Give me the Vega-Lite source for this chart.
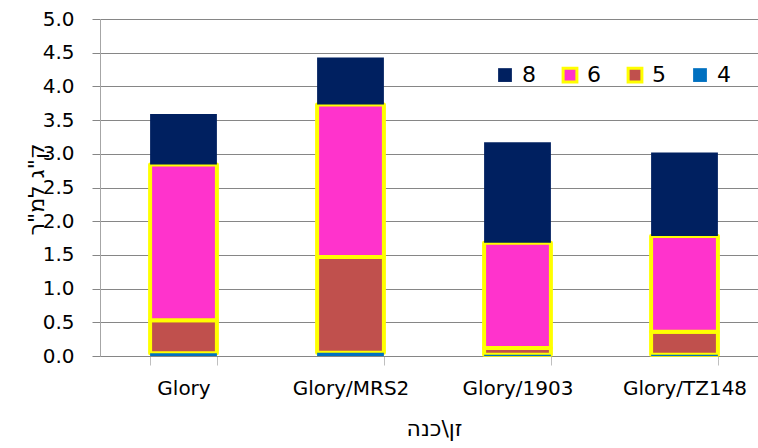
{
  "$schema": "https://vega.github.io/schema/vega-lite/v6.json",
  "width": 658,
  "height": 337,
  "autosize": {"type": "none"},
  "padding": {"left": 100, "top": 19, "right": 0, "bottom": 92},
  "background": "white",
  "data": {
    "values": [
      {"variety": "Glory", "series": "5", "ord": 2, "value": 0.49},
      {"variety": "Glory", "series": "6", "ord": 3, "value": 2.31},
      {"variety": "Glory", "series": "8", "ord": 4, "value": 0.75},
      {"variety": "Glory", "series": "4", "ord": 1, "value": 0.04},
      {"variety": "Glory/MRS2", "series": "5", "ord": 2, "value": 1.42},
      {"variety": "Glory/MRS2", "series": "6", "ord": 3, "value": 2.26},
      {"variety": "Glory/MRS2", "series": "8", "ord": 4, "value": 0.70},
      {"variety": "Glory/MRS2", "series": "4", "ord": 1, "value": 0.05},
      {"variety": "Glory/1903", "series": "5", "ord": 2, "value": 0.10},
      {"variety": "Glory/1903", "series": "6", "ord": 3, "value": 1.56},
      {"variety": "Glory/1903", "series": "8", "ord": 4, "value": 1.49},
      {"variety": "Glory/1903", "series": "4", "ord": 1, "value": 0.02},
      {"variety": "Glory/TZ148", "series": "5", "ord": 2, "value": 0.34},
      {"variety": "Glory/TZ148", "series": "6", "ord": 3, "value": 1.42},
      {"variety": "Glory/TZ148", "series": "8", "ord": 4, "value": 1.24},
      {"variety": "Glory/TZ148", "series": "4", "ord": 1, "value": 0.02}
    ]
  },
  "mark": {"type": "bar", "strokeWidth": 4, "strokeJoin": "round"},
  "encoding": {
    "x": {
      "field": "variety",
      "type": "nominal",
      "sort": ["Glory", "Glory/MRS2", "Glory/1903", "Glory/TZ148"],
      "scale": {"range": [0, 668], "paddingInner": 0.6, "paddingOuter": 0.3},
      "axis": {
        "title": "זן\\כנה",
        "titleX": 334,
        "titleFontSize": 22,
        "titlePadding": 20,
        "labelAngle": 0,
        "labelFontSize": 20,
        "labelPadding": 13,
        "tickBand": "extent",
        "tickSize": 9,
        "tickColor": "#bfbfbf",
        "domainColor": "#868686",
        "grid": false
      }
    },
    "y": {
      "field": "value",
      "type": "quantitative",
      "stack": "zero",
      "scale": {"domain": [0, 5]},
      "axis": {
        "title": "ק\"ג למ\"ר",
        "titleFontSize": 22,
        "titleX": -52,
        "titleY": 170,
        "values": [0, 0.5, 1, 1.5, 2, 2.5, 3, 3.5, 4, 4.5, 5],
        "format": ".1f",
        "labelFontSize": 20,
        "labelPadding": 18,
        "tickSize": 8,
        "tickColor": "#868686",
        "domainColor": "#a6a6a6",
        "grid": true,
        "gridColor": "#868686",
        "gridOpacity": 1
      }
    },
    "color": {
      "field": "series",
      "type": "nominal",
      "scale": {"domain": ["8", "6", "5", "4"], "range": ["#002060", "#FF33CC", "#C0504D", "#0070C0"]},
      "legend": {
        "orient": "none", "legendX": 394, "legendY": 45, "direction": "horizontal", "columns": 4,
        "title": null, "symbolType": "square", "symbolSize": 190, "symbolStrokeWidth": 3,
        "labelFontSize": 22, "labelColor": "black", "columnPadding": 21, "labelOffset": 6
      }
    },
    "stroke": {
      "field": "series",
      "type": "nominal",
      "scale": {"domain": ["8", "6", "5", "4"], "range": ["transparent", "#FFFF00", "#FFFF00", "transparent"]},
      "legend": {
        "orient": "none", "legendX": 394, "legendY": 45, "direction": "horizontal", "columns": 4,
        "title": null, "symbolType": "square", "symbolSize": 190, "symbolStrokeWidth": 3,
        "labelFontSize": 22, "labelColor": "black", "columnPadding": 21, "labelOffset": 6
      }
    },
    "order": {"field": "ord", "type": "quantitative"}
  },
  "config": {
    "view": {"stroke": null},
    "font": "DejaVu Sans",
    "axis": {"labelFont": "DejaVu Sans", "titleFont": "DejaVu Sans", "labelColor": "#000", "titleColor": "#000", "titleFontWeight": "normal"},
    "legend": {"labelFont": "DejaVu Sans", "padding": 0}
  }
}
